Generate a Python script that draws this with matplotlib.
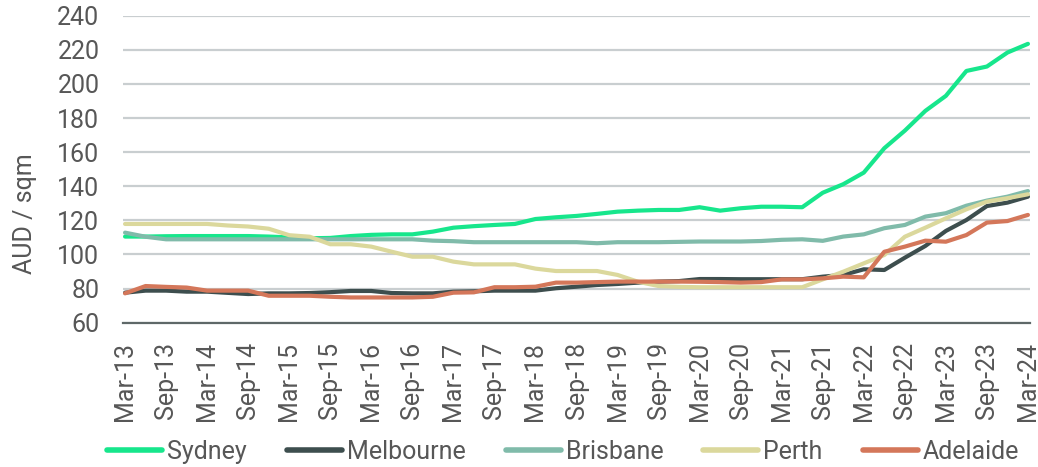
import matplotlib
matplotlib.use("Agg")
import matplotlib.pyplot as plt

plt.rcParams['font.family'] = ['Roboto', 'DejaVu Sans']

quarters = []
for yr in range(13, 25):
    for m in ["Mar", "Jun", "Sep", "Dec"]:
        quarters.append(f"{m}-{yr}")
quarters = quarters[:45]

sydney = [110.5, 110.5, 110.7, 110.8, 110.8, 110.8, 110.8, 110.5, 110.0, 109.5,
          109.7, 110.8, 111.5, 111.8, 111.8, 113.4, 115.7, 116.6, 117.3, 117.9,
          120.8, 121.8, 122.6, 123.8, 125.1, 125.7, 126.1, 126.1, 127.7, 125.7,
          127.1, 128.0, 128.0, 127.7, 136.2, 141.2, 148.0, 162.3, 172.6, 184.2,
          193.0, 207.6, 210.2, 218.4, 223.5]
melbourne = [77.6, 78.8, 78.8, 78.2, 78.2, 77.5, 76.8, 77.2, 77.2, 77.4,
             77.9, 78.6, 78.6, 77.4, 77.2, 77.2, 78.2, 78.4, 78.8, 78.8,
             78.8, 80.2, 81.1, 82.1, 82.7, 83.5, 84.1, 84.4, 85.6, 85.6,
             85.5, 85.5, 85.5, 85.5, 87.0, 88.0, 91.3, 90.9, 98.1, 105.0,
             113.8, 120.2, 128.4, 130.4, 133.9]
brisbane = [112.8, 110.4, 108.9, 108.9, 108.9, 108.9, 108.9, 108.9, 108.9, 108.9,
            108.9, 108.9, 108.9, 108.9, 108.9, 108.1, 107.8, 107.2, 107.2, 107.2,
            107.2, 107.2, 107.2, 106.6, 107.2, 107.2, 107.2, 107.4, 107.6, 107.6,
            107.6, 107.9, 108.6, 108.9, 108.0, 110.5, 111.8, 115.4, 117.3, 122.2,
            124.2, 128.6, 131.6, 133.9, 137.2]
perth = [117.9, 117.9, 117.9, 117.9, 117.9, 117.0, 116.4, 115.1, 111.3, 110.4,
         106.0, 106.0, 104.6, 101.6, 98.7, 98.7, 95.8, 94.2, 94.2, 94.2,
         91.7, 90.3, 90.3, 90.3, 88.0, 84.0, 81.5, 81.0, 80.8, 80.8,
         80.8, 80.8, 80.8, 80.8, 85.4, 89.9, 94.8, 99.7, 110.4, 115.7,
         121.2, 126.5, 131.0, 133.0, 135.3]
adelaide = [77.2, 81.5, 81.0, 80.6, 78.8, 78.8, 78.8, 75.8, 75.8, 75.8,
            75.2, 74.8, 74.8, 74.8, 74.8, 75.2, 77.6, 77.8, 80.8, 80.8,
            81.1, 83.5, 83.5, 83.8, 84.1, 84.1, 84.1, 84.1, 84.0, 83.8,
            83.5, 83.8, 85.4, 85.4, 86.0, 87.0, 86.6, 101.6, 104.6, 108.1,
            107.5, 111.4, 118.7, 119.6, 123.2]

series = [("Sydney", sydney, "#17E68C"),
          ("Melbourne", melbourne, "#3D4E4E"),
          ("Brisbane", brisbane, "#80BBAA"),
          ("Perth", perth, "#DBD89C"),
          ("Adelaide", adelaide, "#D4775A")]

fig = plt.figure(figsize=(10.38, 4.67), dpi=100)
ax = fig.add_axes([123/1038, 1-322.7/467, 907/1038, (322.7-15.7)/467])

x = list(range(len(quarters)))
for name, vals, col in series:
    ax.plot(x, vals, color=col, lw=3.0, label=name, solid_capstyle='round', zorder=3)

ax.set_ylim(60, 240)
ax.set_xlim(-0.1, 44.1)
ax.set_yticks(range(60, 241, 20))
ax.grid(axis='y', color='#C9CED0', lw=1.6, zorder=0)
ax.set_axisbelow(True)
for s in ['top', 'right', 'left']:
    ax.spines[s].set_visible(False)
ax.spines['bottom'].set_color('#5E6868')
ax.spines['bottom'].set_linewidth(1.6)

ax.set_xticks(x[::2])
ax.set_xticklabels(quarters[::2], rotation=90)
ax.tick_params(axis='x', length=0, pad=14, labelsize=18, labelcolor='#575757')
ax.tick_params(axis='y', length=0, pad=17, labelsize=18, labelcolor='#575757')

fig.text(25/1038, 1-214/467, "AUD / sqm", rotation=90, ha='center', va='center',
         fontsize=18, color='#575757')

leg = fig.legend(loc='center', bbox_to_anchor=(563/1038, 1-452/467), ncol=5,
                 frameon=False, fontsize=18, handlelength=2.2, handletextpad=0.2,
                 columnspacing=1.6, labelcolor='#575757', borderpad=0)
for h in leg.get_lines():
    h.set_linewidth(4)

fig.savefig("out.png", dpi=100)
